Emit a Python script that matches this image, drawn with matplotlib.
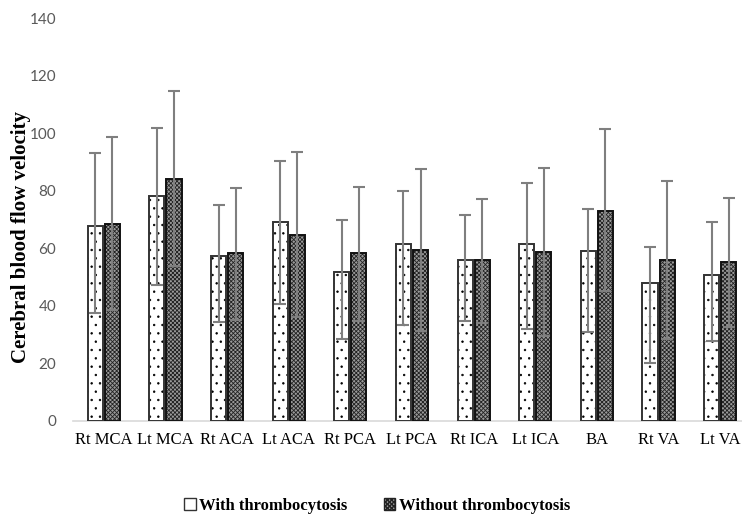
import matplotlib
matplotlib.use("Agg")
import matplotlib.pyplot as plt
import numpy as np
from matplotlib.patches import Patch

categories = ["Rt MCA", "Lt MCA", "Rt ACA", "Lt ACA", "Rt PCA", "Lt PCA",
              "Rt ICA", "Lt ICA", "BA", "Rt VA", "Lt VA"]

means_with = [67.8, 78.0, 57.4, 69.0, 51.6, 61.4, 55.9, 61.4, 59.1, 47.9, 50.6]
upper_with = [93.0, 101.9, 74.9, 90.3, 69.9, 79.9, 71.7, 82.6, 73.6, 60.4, 69.0]
lower_with = [37.5, 47.4, 34.3, 40.6, 28.4, 33.2, 34.8, 32.1, 30.8, 20.3, 27.9]

means_without = [68.5, 84.1, 58.2, 64.6, 58.2, 59.5, 55.9, 58.7, 73.0, 56.0, 55.1]
upper_without = [98.8, 114.5, 80.8, 93.5, 81.2, 87.5, 77.2, 88.0, 101.6, 83.5, 77.6]
lower_without = [38.6, 53.7, 35.1, 36.1, 34.9, 31.4, 34.0, 29.7, 45.1, 28.4, 32.5]

series_labels = ["With thrombocytosis", "Without thrombocytosis"]
yticks = [0, 20, 40, 60, 80, 100, 120, 140]

fig = plt.figure(figsize=(7.42, 5.16), dpi=100)
ax = fig.add_axes([73/742, 95/516, 678/742, 403/516])

x = np.arange(len(categories))
w = 0.245
off = 0.138

mw = np.array(means_with); mo = np.array(means_without)
err_w = [mw - np.array(lower_with), np.array(upper_with) - mw]
err_o = [mo - np.array(lower_without), np.array(upper_without) - mo]

DOT_HATCH = '..'
CHECK_HATCH = 'xxxxxxxx'
DARK_FACE = '#9a9a9a'

with plt.rc_context({'hatch.linewidth': 0.5}):
    ax.bar(x - off, mw, w, color='white', hatch=DOT_HATCH, edgecolor='black', linewidth=0, zorder=2)
h1 = Patch(facecolor='white', edgecolor='#333333', linewidth=1)
ax.bar(x - off, mw, w, fill=False, edgecolor='#333333', linewidth=1.4, zorder=3)

with plt.rc_context({'hatch.linewidth': 0.6}):
    ax.bar(x + off, mo, w, color=DARK_FACE, hatch=CHECK_HATCH, edgecolor='#222222', linewidth=0, zorder=2)
    h2 = Patch(facecolor=DARK_FACE, edgecolor='#222222', hatch=CHECK_HATCH, linewidth=1)
ax.bar(x + off, mo, w, fill=False, edgecolor='#111111', linewidth=1.4, zorder=3)

ax.errorbar(x - off, mw, yerr=err_w, fmt='none', ecolor='#7f7f7f', elinewidth=1.5,
            capsize=4, capthick=1.5, zorder=4)
ax.errorbar(x + off, mo, yerr=err_o, fmt='none', ecolor='#7f7f7f', elinewidth=1.5,
            capsize=4, capthick=1.5, zorder=4)

ax.set_xlim(-0.5, len(categories) - 0.5)
ax.set_ylim(0, 140)
ax.set_yticks(yticks)
ax.set_yticklabels([str(t) for t in yticks], family='Lato', fontsize=11, color='#595959')
ax.set_xticks(x)
ax.set_xticklabels(categories, family='Liberation Serif', fontsize=12, color='black')
ax.tick_params(axis='y', length=0, pad=12)
ax.tick_params(axis='x', length=0, pad=8)
for s in ['top', 'right', 'left']:
    ax.spines[s].set_visible(False)
ax.spines['bottom'].set_color('#d9d9d9')
ax.spines['bottom'].set_linewidth(1.2)

fig.text(21/742, 1 - 237/516, "Cerebral blood flow velocity", rotation=90,
         ha='center', va='center', family='Liberation Serif', fontweight='bold', fontsize=15)

fig.legend([h1, h2], series_labels, loc='center', bbox_to_anchor=(0.508, 0.02),
           ncol=2, frameon=False, handlelength=0.7, handleheight=0.7, handletextpad=0.2,
           columnspacing=2.2, prop={'family': 'Liberation Serif', 'weight': 'bold', 'size': 12})

fig.savefig("out.png", dpi=100)
